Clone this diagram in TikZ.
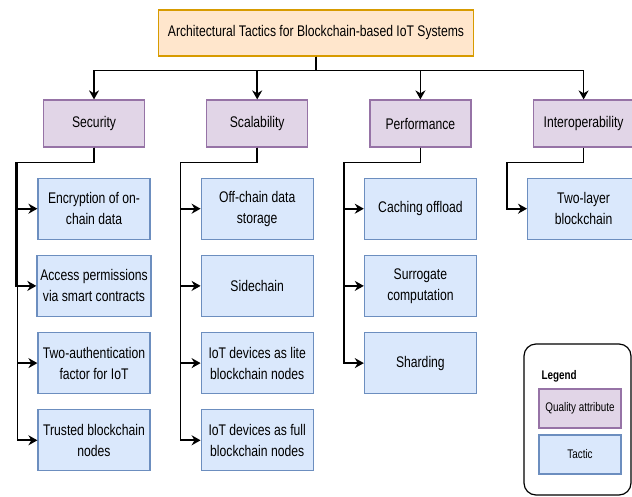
\documentclass[tikz,border=0pt]{standalone}
\usepackage{fontspec}
\setmainfont{Liberation Sans}[FakeStretch=0.79]
\usetikzlibrary{positioning,arrows.meta}

\definecolor{titlefill}{HTML}{FFE6CC}
\definecolor{titledraw}{HTML}{D79B00}
\definecolor{qualfill}{HTML}{E1D5E7}
\definecolor{qualdraw}{HTML}{9673A6}
\definecolor{tacfill}{HTML}{DAE8FC}
\definecolor{tacdraw}{HTML}{6C8EBF}

\begin{document}
\begin{tikzpicture}[node distance=15pt,
                    title node/.style={draw=titledraw,fill=titlefill,line width=1.2pt,minimum width=315pt,minimum height=46pt,font=\fontsize{15.4}{21}\selectfont},
                    quality node/.style={draw=qualdraw,fill=qualfill,line width=1.2pt,minimum width=101pt,minimum height=47pt,font=\fontsize{15.4}{21}\selectfont},
                    tactic node/.style={draw=tacdraw,fill=tacfill,line width=1.2pt,minimum width=112pt,minimum height=61pt,align=center,font=\fontsize{15.4}{21}\selectfont},
                    link/.style={line width=1.7pt,-{Stealth[length=9pt,width=10pt]}}]

    \useasboundingbox (0pt,0pt) rectangle (632pt,-496pt);

    % Define vertices
    \node[title node] (title) at (316pt,-33pt) {Architectural Tactics for Blockchain-based IoT Systems};

    \node[quality node] (sec) at (94pt,-123.5pt) {Security};
    \node[quality node, right=61pt of sec] (sca) {Scalability};
    \node[quality node, right=61pt of sca] (per) {Performance};
    \node[quality node, right=61pt of per] (int) {Interoperability};

    \node[tactic node, below=30pt of sec] (sec1) {Encryption of on-\\chain data};
    \node[tactic node, below=of sec1] (sec2) {Access permissions\\via smart contracts};
    \node[tactic node, below=of sec2] (sec3) {Two-authentication\\factor for IoT};
    \node[tactic node, below=of sec3] (sec4) {Trusted blockchain\\nodes};

    \node[tactic node, below=30pt of sca] (sca1) {Off-chain data\\storage};
    \node[tactic node, below=of sca1] (sca2) {Sidechain};
    \node[tactic node, below=of sca2] (sca3) {IoT devices as lite\\blockchain nodes};
    \node[tactic node, below=of sca3] (sca4) {IoT devices as full\\blockchain nodes};

    \node[tactic node, below=30pt of per] (per1) {Caching offload};
    \node[tactic node, below=of per1] (per2) {Surrogate\\computation};
    \node[tactic node, below=of per2] (per3) {Sharding};

    \node[tactic node, below=30pt of int] (int1) {Two-layer\\blockchain};

    % Legend
    \node[draw,line width=1.2pt,rounded corners=12pt,minimum width=107pt,minimum height=151pt] (legend) at (577.5pt,-419.5pt) {};
    \node[anchor=west,font=\fontsize{12.5}{15}\selectfont\bfseries] (legendtitle) at (538pt,-376pt) {Legend};
    \node[quality node,minimum width=82pt,minimum height=39pt,font=\fontsize{12.5}{15}\selectfont] (legq) at (580pt,-408.5pt) {Quality attribute};
    \node[tactic node,minimum width=82pt,minimum height=39pt,font=\fontsize{12.5}{15}\selectfont] (legt) at (580pt,-454.5pt) {Tactic};

    % Edges
    \foreach \q in {sec,sca,per,int}
        \draw[link] (title.south) -- ++(0,-14pt) -| (\q.north);

    \foreach \t in {sec1,sec2,sec3,sec4}
        \draw[link] (sec.south) -- ++(0,-15pt) -| ([xshift=-20pt]\t.west) -- (\t.west);
    \foreach \t in {sca1,sca2,sca3,sca4}
        \draw[link] (sca.south) -- ++(0,-15pt) -| ([xshift=-20pt]\t.west) -- (\t.west);
    \foreach \t in {per1,per2,per3}
        \draw[link] (per.south) -- ++(0,-15pt) -| ([xshift=-20pt]\t.west) -- (\t.west);
    \draw[link] (int.south) -- ++(0,-15pt) -| ([xshift=-20pt]int1.west) -- (int1.west);

\end{tikzpicture}
\end{document}
